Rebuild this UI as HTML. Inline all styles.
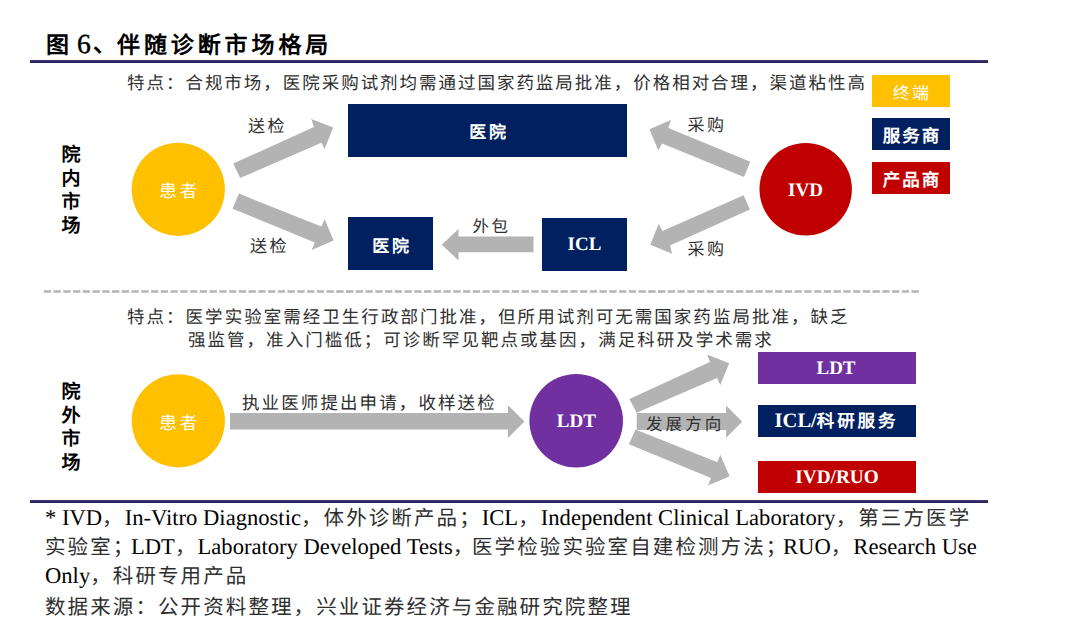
<!DOCTYPE html>
<html lang="zh-CN">
<head>
<meta charset="utf-8">
<style>
html,body{margin:0;padding:0;background:#fff;}
body{width:1080px;height:635px;position:relative;overflow:hidden;font-family:"Liberation Serif",serif;color:#000;text-rendering:geometricPrecision;}
.t{position:absolute;white-space:nowrap;line-height:1;}
.box{position:absolute;display:flex;align-items:center;justify-content:center;color:#fff;font-weight:bold;white-space:nowrap;}
.vl{position:absolute;font-family:"Liberation Sans",sans-serif;font-weight:bold;font-size:19px;line-height:23.5px;width:22px;text-align:center;}
.cjk{font-size:17.5px;letter-spacing:1.97px;color:#2e2e2e;}
.box>span{position:relative;}
svg{position:absolute;left:0;top:0;}
.fn{font-size:22.6px;}
.fc{font-size:20.5px;letter-spacing:2.1px;color:#2e2e2e;}
</style>
</head>
<body>
<svg width="1080" height="635" viewBox="0 0 1080 635">
  <rect x="30" y="60" width="958" height="1" fill="#39376d"/><rect x="30" y="61" width="958" height="1" fill="#302e66"/><rect x="30" y="62" width="958" height="1" fill="#22205a"/>
  <rect x="30" y="500" width="958" height="1" fill="#39376d"/><rect x="30" y="501" width="958" height="1" fill="#302e66"/><rect x="30" y="502" width="958" height="1" fill="#22205a"/>
  <line x1="43.8" y1="291.4" x2="920" y2="291.4" stroke="#b4b4b4" stroke-width="2.5" stroke-dasharray="7.3 2.45"/>
  <circle cx="178.3" cy="189.3" r="46.6" fill="#ffc000"/>
  <circle cx="805.7" cy="189.3" r="46.2" fill="#c00000"/>
  <circle cx="178.3" cy="420.8" r="46.6" fill="#ffc000"/>
  <circle cx="576.2" cy="420.8" r="46.8" fill="#7030a0"/>
  <g fill="#b3b3b3">
    <!-- top-left 送检 -->
    <polygon points="233.2,163.6 313.9,127.1 311.3,119.1 333.2,127.4 324.6,149.1 321.4,142.8 240.1,178.1"/>
    <!-- bottom-left 送检 -->
    <polygon points="238.9,193.6 321.4,226.6 324.6,219.3 333.7,240.5 311.7,249.9 314.8,242.4 232.6,208.7"/>
    <!-- top-right 采购 -->
    <polygon points="750.3,161.7 668.4,127.9 670.9,119.9 649.5,129.2 658.3,150.6 662.1,143.4 744,176.9"/>
    <!-- bottom-right 采购 -->
    <polygon points="743.6,195.3 662.4,231 658.7,223.8 650.3,244.8 672.1,253.7 670,245.5 749.9,209.5"/>
    <!-- 外包 -->
    <polygon points="533.5,236.6 458.5,236.6 458.5,229 441.8,244.7 458.5,260.4 458.5,252.3 533.5,252.3"/>
    <!-- long arrow -->
    <polygon points="230,413 508,413 508,405.3 524.5,421.6 508,437.9 508,429.6 230,429.6"/>
    <!-- upper fan -->
    <polygon points="629.4,399 709.9,362.1 707.1,354.6 729.2,363.2 720.3,385 717,378.1 636.6,412.8"/>
    <!-- middle fan -->
    <polygon points="636.7,413 726.1,413 726.1,405.6 742.2,421.7 726.1,437.8 726.1,430 636.7,430"/>
    <!-- lower fan -->
    <polygon points="635.5,429.4 717.4,462.3 720.3,455 729.7,476.3 707.9,485.6 711,477.9 628.9,444.3"/>
  </g>
</svg>

<div class="t" style="left:46px;top:34px;font-size:23px;font-weight:bold;">图</div>
<div class="t" style="left:77px;top:29.5px;font-size:27.5px;-webkit-text-stroke:0.5px #000;">6</div>
<div class="t" style="left:93px;top:33px;font-size:23px;font-weight:bold;">、</div>
<div class="t" style="left:117px;top:34px;font-size:23px;font-weight:bold;letter-spacing:3.9px;">伴随诊断市场格局</div>

<div class="t cjk" style="left:127px;top:75px;">特点：合规市场，医院采购试剂均需通过国家药监局批准，价格相对合理，渠道粘性高</div>

<div class="box" style="left:872px;top:75px;width:78px;height:32px;background:#ffc000;font-size:17px;font-weight:normal;"><span style="top:0px;left:1px;letter-spacing:2.2px">终端</span></div>
<div class="box" style="left:872px;top:118px;width:78px;height:32px;background:#002060;font-size:17.5px;"><span style="top:1px;left:1px;letter-spacing:2px">服务商</span></div>
<div class="box" style="left:872px;top:162px;width:78px;height:32px;background:#c00000;font-size:17.5px;"><span style="top:1px;left:1px;letter-spacing:2px">产品商</span></div>

<div class="vl" style="left:60px;top:144px;">院<br>内<br>市<br>场</div>
<div class="vl" style="left:60px;top:381px;">院<br>外<br>市<br>场</div>

<div class="t" style="left:133.2px;top:183px;width:93px;text-align:center;font-size:17.5px;letter-spacing:3px;color:#fff;">患者</div>
<div class="t" style="left:133.2px;top:415px;width:93px;text-align:center;font-size:17.5px;letter-spacing:3px;color:#fff;">患者</div>

<div class="box" style="left:348px;top:104px;width:279px;height:53px;background:#002060;font-size:17px;"><span style="top:-0.5px;left:1.5px;letter-spacing:2.8px">医院</span></div>
<div class="box" style="left:348px;top:217px;width:85px;height:53px;background:#002060;font-size:17px;"><span style="top:0.5px;left:1.5px;letter-spacing:2.8px">医院</span></div>
<div class="box" style="left:542px;top:218px;width:85px;height:53px;background:#002060;font-size:19px;"><span style="top:0.5px">ICL</span></div>

<div class="t" style="left:759.5px;top:181px;width:92px;text-align:center;font-size:19px;font-weight:bold;color:#fff;">IVD</div>

<div class="t cjk" style="left:248px;top:117.5px;font-size:17px;letter-spacing:2.5px;">送检</div>
<div class="t cjk" style="left:250px;top:238px;font-size:17px;letter-spacing:2.5px;">送检</div>
<div class="t cjk" style="left:687.5px;top:117px;font-size:17px;letter-spacing:2.5px;">采购</div>
<div class="t cjk" style="left:687.5px;top:241px;font-size:17px;letter-spacing:2.5px;">采购</div>
<div class="t cjk" style="left:472.5px;top:218.5px;font-size:16.5px;letter-spacing:2.5px;">外包</div>

<div class="t cjk" style="left:127px;top:309px;letter-spacing:2.03px;">特点：医学实验室需经卫生行政部门批准，但所用试剂可无需国家药监局批准，缺乏</div>
<div class="t cjk" style="left:188px;top:331.5px;letter-spacing:2.03px;">强监管，准入门槛低；可诊断罕见靶点或基因，满足科研及学术需求</div>

<div class="t cjk" style="left:242px;top:394.5px;letter-spacing:2.1px;">执业医师提出申请，收样送检</div>
<div class="t" style="left:529.4px;top:412px;width:94px;text-align:center;font-size:19px;font-weight:bold;color:#fff;">LDT</div>
<div class="t cjk" style="left:646px;top:416.5px;font-size:16.5px;letter-spacing:3.1px;">发展方向</div>

<div class="box" style="left:758px;top:352px;width:158px;height:32px;background:#7030a0;font-size:19px;"><span style="top:1px;left:-1px">LDT</span></div>
<div class="box" style="left:758px;top:404.5px;width:158px;height:32.5px;background:#002060;font-size:20.5px;"><span style="left:-0.5px;top:-0.5px">ICL/<span style="font-size:17.5px;letter-spacing:2.9px">科研服务</span></span></div>
<div class="box" style="left:758px;top:460.5px;width:158px;height:32px;background:#c00000;font-size:19.3px;"><span style="top:1.5px">IVD/RUO</span></div>

<div class="t fn" style="left:45px;top:507.3px;">* IVD<span class="fc">，</span>In-Vitro Diagnostic<span class="fc">，体外诊断产品；</span>ICL<span class="fc">，</span>Independent Clinical Laboratory<span class="fc">，第三方医学</span></div>
<div class="t fn" style="left:45px;top:536px;"><span class="fc">实验室；</span></div>
<div class="t fn" style="left:131px;top:536px;">LDT<span class="fc">，</span>Laboratory Developed Tests<span class="fc">，</span></div>
<div class="t fn" style="left:472px;top:536px;"><span class="fc">医学检验实验室自建检测方法；</span></div>
<div class="t fn" style="left:783px;top:536px;">RUO<span class="fc">，</span>Research Use</div>
<div class="t fn" style="left:45px;top:565px;">Only<span class="fc">，科研专用产品</span></div>
<div class="t fn" style="left:45px;top:595.5px;"><span class="fc">数据来源：公开资料整理，兴业证券经济与金融研究院整理</span></div>
</body>
</html>
